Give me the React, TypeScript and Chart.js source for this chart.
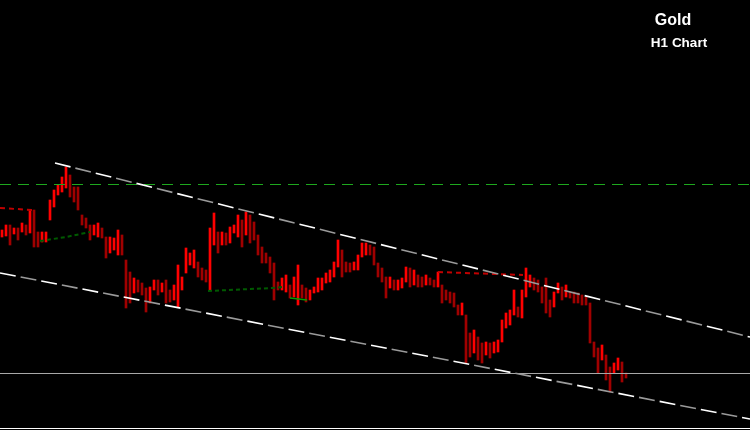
import React, { useEffect, useRef } from "react";
import { Chart, registerables } from "chart.js";

Chart.register(...registerables);

// H1 bars of Gold: highs and lows (price), one per bar
const highs = [
  1770, 1775, 1775, 1772, 1772, 1777, 1775, 1790, 1790, 1768, 1768, 1768, 1800, 1810, 1815, 1823,
  1833, 1825, 1813, 1813, 1785, 1782, 1775, 1775, 1777, 1772, 1763, 1763, 1762, 1770, 1765, 1740,
  1728, 1722, 1720, 1717, 1712, 1713, 1720, 1720, 1717, 1720, 1710, 1715, 1735, 1723, 1752, 1747,
  1750, 1738, 1732, 1730, 1772, 1787, 1768, 1768, 1767, 1773, 1775, 1785, 1780, 1788, 1785, 1778,
  1765, 1753, 1747, 1743, 1737, 1718, 1722, 1725, 1715, 1723, 1735, 1715, 1712, 1710, 1713, 1722,
  1722, 1727, 1730, 1738, 1760, 1750, 1738, 1737, 1738, 1745, 1757, 1757, 1755, 1753, 1737, 1732,
  1723, 1723, 1720, 1720, 1722, 1733, 1732, 1730, 1725, 1723, 1725, 1722, 1720, 1728, 1715, 1710,
  1708, 1707, 1695, 1697, 1685, 1667, 1670, 1663, 1657, 1658, 1657, 1658, 1660, 1680, 1687, 1690,
  1710, 1693, 1710, 1732, 1725, 1722, 1720, 1713, 1722, 1700, 1708, 1717, 1713, 1715, 1708, 1708,
  1707, 1705, 1703, 1697, 1658, 1652, 1655, 1645, 1633, 1637, 1642, 1638, 1627,
];
const lows = [
  1763, 1764, 1755, 1766, 1760, 1768, 1765, 1767, 1753, 1753, 1758, 1758, 1780, 1793, 1805, 1808,
  1812, 1803, 1798, 1790, 1775, 1772, 1760, 1765, 1763, 1762, 1742, 1747, 1750, 1745, 1745, 1692,
  1697, 1707, 1708, 1705, 1688, 1697, 1710, 1705, 1708, 1697, 1698, 1700, 1693, 1710, 1727, 1735,
  1732, 1723, 1720, 1718, 1710, 1755, 1747, 1755, 1755, 1757, 1767, 1763, 1753, 1765, 1757, 1760,
  1745, 1737, 1737, 1727, 1700, 1710, 1710, 1708, 1702, 1703, 1695, 1702, 1698, 1700, 1707, 1708,
  1710, 1717, 1718, 1723, 1733, 1723, 1728, 1728, 1730, 1730, 1743, 1745, 1745, 1735, 1723, 1718,
  1702, 1712, 1710, 1710, 1712, 1718, 1713, 1715, 1713, 1713, 1715, 1715, 1713, 1713, 1697, 1700,
  1697, 1693, 1685, 1685, 1637, 1643, 1647, 1640, 1637, 1645, 1642, 1647, 1648, 1658, 1672, 1675,
  1685, 1683, 1682, 1703, 1713, 1710, 1708, 1697, 1687, 1683, 1693, 1707, 1700, 1703, 1702, 1697,
  1697, 1695, 1695, 1657, 1643, 1627, 1640, 1620, 1608, 1627, 1630, 1618, 1622,
];

// Channel lines [bar index, price]
const upperChannel = [
  { x: 13.25, y: 1837 },
  { x: 187, y: 1663 },
];
const lowerChannel = [
  { x: -0.5, y: 1727 },
  { x: 187, y: 1581 },
];
const greenLevel = 1815.5;
const grayLevel = 1626.5;
const bottomLevel = 1571.5;
const redDotted1 = [
  { x: -0.5, y: 1792 },
  { x: 7.5, y: 1790 },
];
const redDotted2 = [
  { x: 109, y: 1728 },
  { x: 130.25, y: 1725 },
];
const greenDotted1 = [
  { x: 9.5, y: 1759 },
  { x: 16, y: 1763 },
  { x: 22, y: 1768 },
];
const greenDotted2 = [
  { x: 51.5, y: 1709 },
  { x: 67.5, y: 1712 },
  { x: 70.25, y: 1713 },
];
const greenSolid = [
  { x: 72, y: 1702 },
  { x: 76.25, y: 1700 },
];

const X_MIN = -0.5;
const X_MAX = 187;

export default function App() {
  const ref = useRef<HTMLCanvasElement | null>(null);

  useEffect(() => {
    document.body.style.margin = "0";
    document.body.style.background = "#000";
    const canvas = ref.current;
    if (!canvas) return;

    const bars = highs.map((h, i) => ({ x: i, y: [lows[i], h] }));
    const colors = highs.map((h, i) => {
      const mid = (h + lows[i]) / 2;
      const prev = i > 0 ? (highs[i - 1] + lows[i - 1]) / 2 : mid;
      return mid >= prev ? "#ff0000" : "#a00000";
    });

    const hline = (v: number) => [
      { x: X_MIN, y: v },
      { x: X_MAX, y: v },
    ];
    const lineDs = (data: any, color: string, width: number, dash: number[], offset = 0) => ({
      type: "line" as const,
      data,
      borderColor: color,
      borderWidth: width,
      borderDash: dash,
      borderDashOffset: offset,
      pointRadius: 0,
      fill: false,
      tension: 0,
      order: 0,
    });

    const chart = new Chart(canvas, {
      type: "bar",
      data: {
        datasets: [
          lineDs(upperChannel, "#ffffff", 1.6, [16, 26], 0),
          lineDs(upperChannel, "#9a9a9a", 1.6, [16, 26], -21),
          lineDs(lowerChannel, "#ffffff", 1.6, [16, 26], 0),
          lineDs(lowerChannel, "#9a9a9a", 1.6, [16, 26], -21),
          lineDs(hline(greenLevel), "#1ea81e", 1, [11, 7]),
          lineDs(hline(grayLevel), "#a8a8a8", 1, []),
          lineDs(hline(bottomLevel), "#ffffff", 1, []),
          lineDs(redDotted1, "#c00000", 2, [5, 4]),
          lineDs(redDotted2, "#c00000", 2, [5, 4]),
          lineDs(greenDotted1, "#005a00", 2, [4, 3]),
          lineDs(greenDotted2, "#005a00", 2, [4, 3]),
          lineDs(greenSolid, "#00a000", 1.5, []),
          {
            type: "bar" as const,
            data: bars as any,
            backgroundColor: colors,
            borderWidth: 0,
            barThickness: 2,
            order: 10,
          },
        ] as any,
      },
      options: {
        animation: false,
        responsive: false,
        events: [],
        layout: { padding: 0 },
        plugins: {
          legend: { display: false },
          tooltip: { enabled: false },
          title: { display: false },
        },
        scales: {
          x: { type: "linear", min: X_MIN, max: X_MAX, display: false, offset: false },
          y: { type: "linear", min: 1570, max: 2000, display: false },
        },
      },
    });
    return () => chart.destroy();
  }, []);

  const textStyle: React.CSSProperties = {
    position: "absolute",
    color: "#ffffff",
    fontFamily: "'Liberation Sans', Arial, sans-serif",
    fontWeight: "bold",
    whiteSpace: "nowrap",
    lineHeight: 1,
    transform: "translateX(-50%)",
  };

  return (
    <div style={{ position: "relative", width: 750, height: 430, background: "#000", overflow: "hidden" }}>
      <canvas ref={ref} width={750} height={430} style={{ display: "block" }} />
      <div style={{ ...textStyle, left: 673, top: 12, fontSize: 16 }}>Gold</div>
      <div style={{ ...textStyle, left: 679, top: 36, fontSize: 13.5 }}>H1 Chart</div>
    </div>
  );
}
